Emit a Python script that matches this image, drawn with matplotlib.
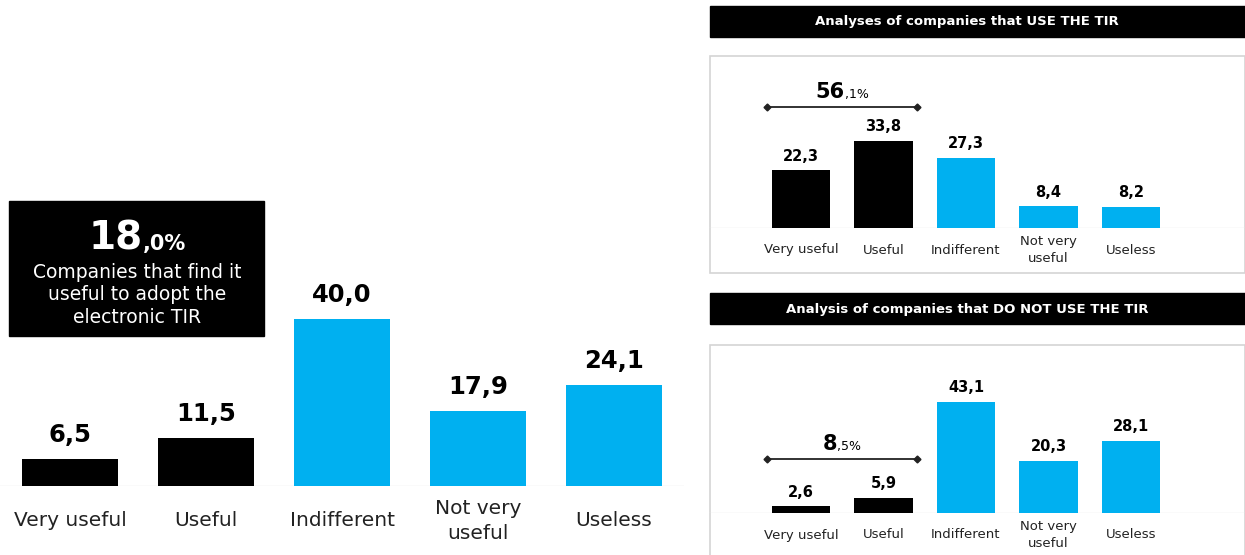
import matplotlib.pyplot as plt
from matplotlib.patches import Rectangle
from matplotlib.transforms import offset_copy

# survey answers, percentages
categories = ["Very useful", "Useful", "Indifferent", "Not very\nuseful", "Useless"]
all_companies = [6.5, 11.5, 40.0, 17.9, 24.1]
use_tir = [22.3, 33.8, 27.3, 8.4, 8.2]
no_tir = [2.6, 5.9, 43.1, 20.3, 28.1]
positive = [True, True, False, False, False]

BLUE = "#00B0F0"
W, H = 1245, 555
plt.rcParams["font.family"] = ["DejaVu Sans"]

fig = plt.figure(figsize=(W / 100, H / 100), dpi=100)
fig.patch.set_facecolor("white")
renderer = fig.canvas.get_renderer()


def px_axes(x0, y_top, x1, y_base):
    # axes placed with pixel coordinates measured from the top-left corner
    a = fig.add_axes([x0 / W, (H - y_base) / H, (x1 - x0) / W, (y_base - y_top) / H])
    a.set_zorder(2)
    return a


def fmt(v):
    return f"{v:.1f}".replace(".", ",")


def split_pct(v):
    whole, dec = f"{v:.1f}".split(".")
    return whole, "," + dec + "%"


def pct_label(parent, trans, x, y, value, big_kw, small_kw):
    # big integer part + small decimal part, centred together on (x, y) baseline
    big, small = split_pct(value)
    tb = parent.text(x, y, big, transform=trans, ha="left", va="baseline", **big_kw)
    ts = parent.text(x, y, small, transform=trans, ha="left", va="baseline", **small_kw)
    wb = tb.get_window_extent(renderer).width
    ws = ts.get_window_extent(renderer).width
    shift = -(wb + ws) / 2
    tb.set_transform(offset_copy(trans, fig=fig, x=shift, y=0, units="dots"))
    ts.set_transform(offset_copy(trans, fig=fig, x=shift + wb, y=0, units="dots"))


def bar_panel(ax, values, px_per_unit, height_px, val_size, cat_size, val_off, cat_off):
    colors = ["black" if p else BLUE for p in positive]
    x = range(len(values))
    ax.bar(x, values, width=0.705, color=colors, zorder=2)
    ax.set_ylim(0, height_px / px_per_unit)
    ax.axhline(0, color="#e8e8e8", lw=1, zorder=1)
    for i, v in enumerate(values):
        ax.annotate(fmt(v), (i, v), xytext=(0, val_off), textcoords="offset pixels",
                    ha="center", va="center", fontsize=val_size, fontweight="bold",
                    color="black")
        ax.annotate(categories[i], (i, 0), xytext=(0, -cat_off), textcoords="offset pixels",
                    ha="center", va="center", fontsize=cat_size, color="#222222",
                    linespacing=1.35, annotation_clip=False)
    ax.axis("off")


# main chart: all companies
ax = px_axes(0, 150, 684, 486)
ax.set_xlim(-70 / 136, 614 / 136)
bar_panel(ax, all_companies, 4.175, 336, 17.5, 14.5, 24, 35)

# summary box
fig.patches.append(Rectangle((9 / W, (H - 336) / H), 255 / W, 135 / H,
                             transform=fig.transFigure, color="black", zorder=-1))
pct_label(fig, fig.transFigure, 137 / W, (H - 250) / H,
          all_companies[0] + all_companies[1],
          dict(fontsize=28, fontweight="bold", color="white"),
          dict(fontsize=15, fontweight="bold", color="white"))
fig.text(137 / W, (H - 295) / H, "Companies that find it\nuseful to adopt the\nelectronic TIR",
         ha="center", va="center", fontsize=13.5, color="white", linespacing=1.23)


def side_panel(values, bar_top, box_top, box_bottom, base, bracket_px, title):
    # title strip
    fig.patches.append(Rectangle((710 / W, (H - bar_top - 31) / H), 535 / W, 31 / H,
                                 transform=fig.transFigure, color="black", zorder=-1))
    fig.text(967 / W, (H - bar_top - 16) / H, title, ha="center", va="center",
             fontsize=9.5, fontweight="bold", color="white")
    # light frame
    fig.patches.append(Rectangle((709.5 / W, (H - box_bottom) / H), 535 / W,
                                 (box_bottom - box_top) / H, transform=fig.transFigure,
                                 facecolor="none", edgecolor="#d4d4d4", lw=1.2, zorder=-1))
    a = px_axes(709, box_top, 1245, base)
    a.set_xlim((709 - 801) / 82.5, (1245 - 801) / 82.5)
    bar_panel(a, values, 2.58, base - box_top, 10.5, 9.5, 14, 22)
    # bracket over the two positive answers
    y = bracket_px / 2.58
    a.plot([-0.41, 1.41], [y, y], color="#222222", lw=1.3, marker="D", markersize=3.5,
           zorder=3)
    pct_label(a, offset_copy(a.transData, fig=fig, x=0, y=9, units="dots"), 0.5, y,
              values[0] + values[1],
              dict(fontsize=15, fontweight="bold", color="black"),
              dict(fontsize=9, color="black"))


side_panel(use_tir, 6, 56, 273, 228, 121, "Analyses of companies that USE THE TIR")
side_panel(no_tir, 293, 345, 580, 513, 54, "Analysis of companies that DO NOT USE THE TIR")

fig.savefig("out.png", dpi=100, facecolor="white")
